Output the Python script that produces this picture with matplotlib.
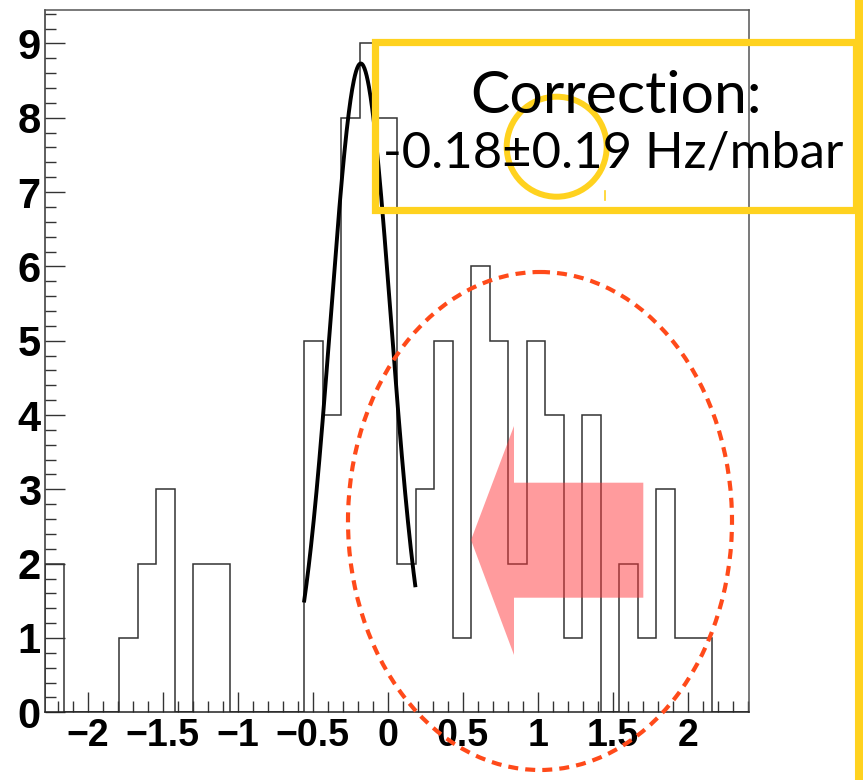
import numpy as np
import matplotlib
matplotlib.use("Agg")
from matplotlib import pyplot as plt
from matplotlib.patches import Rectangle, Circle, Ellipse, Polygon
from matplotlib.ticker import MultipleLocator

# histogram: 38 bins between x_lo and x_hi
x_lo, x_hi = -2.285, 2.408
counts = [2, 0, 0, 0, 1, 2, 3, 0, 2, 2,
          0, 0, 0, 0, 5, 4, 8, 9, 8, 2,
          3, 5, 1, 6, 5, 2, 5, 4, 1, 4,
          0, 2, 1, 3, 1, 1, 0, 0]
edges = np.linspace(x_lo, x_hi, len(counts) + 1)

# gaussian fit shown on the peak
fit_amp, fit_mean, fit_sigma = 8.73, -0.18, 0.201
fit_range = (-0.557, 0.183)

x_ticks = [-2, -1.5, -1, -0.5, 0, 0.5, 1, 1.5, 2]
x_tick_labels = ["\u22122", "\u22121.5", "\u22121", "\u22120.5", "0", "0.5", "1", "1.5", "2"]
y_ticks = list(range(10))
y_tick_labels = [str(v) for v in y_ticks]

box_text = ["Correction:", "-0.18\u00b10.19 Hz/mbar"]

W, H = 863, 780
fig = plt.figure(figsize=(W / 100, H / 100), dpi=100)
ax = fig.add_axes([45 / W, 1 - 712.3 / H, (749 - 45) / W, (712.3 - 10) / H])

ax.stairs(counts, edges, color="#333333", lw=1.1, zorder=2)

xf = np.linspace(fit_range[0], fit_range[1], 200)
yf = fit_amp * np.exp(-0.5 * ((xf - fit_mean) / fit_sigma) ** 2)
ax.plot(xf, yf, color="black", lw=2.8, zorder=3)

ax.set_xlim(x_lo, x_hi)
ax.set_ylim(0, 9.45)
ax.set_xticks(x_ticks)
ax.set_xticklabels(x_tick_labels, fontfamily="Liberation Sans",
                   fontweight="bold", fontsize=27)
ax.set_yticks(y_ticks)
ax.set_yticklabels(y_tick_labels, fontfamily="Liberation Sans",
                   fontweight="bold", fontsize=30)
ax.xaxis.set_minor_locator(MultipleLocator(0.1))
ax.yaxis.set_minor_locator(MultipleLocator(0.2))
ax.tick_params(which="both", direction="in", top=False, right=False,
               color="#333333", width=1)
ax.tick_params(which="major", length=14.5)
ax.tick_params(which="minor", length=8)
ax.tick_params(axis="x", pad=4)
ax.tick_params(axis="y", pad=3)
for s in ax.spines.values():
    s.set_color("#555555")
    s.set_linewidth(1.1)
ax.spines["left"].set_color("#333333")
ax.spines["bottom"].set_color("#222222")

# overlay in pixel coordinates for the hand-drawn annotations
ov = fig.add_axes([0, 0, 1, 1], facecolor="none")
ov.set_xlim(0, W)
ov.set_ylim(H, 0)
ov.axis("off")

yellow = "#ffd21f"
ov.add_patch(Rectangle((374.5, 41.5), 856 - 374.5, 209.5 - 41.5, fill=False,
                       ec=yellow, lw=5.2, joinstyle="miter"))
ov.plot([859, 859], [0, H], color=yellow, lw=5.8, solid_capstyle="butt")
ov.plot([605, 605], [191, 200], color=yellow, lw=1.2)
ov.text(616, 113, box_text[0], ha="center", va="baseline", fontsize=42.5,
        family="Lato", color="black")
ov.text(613, 167, box_text[1], ha="center", va="baseline", fontsize=36.5,
        family="Lato", color="black")
ov.add_patch(Circle((556.7, 146.7), 50, fill=False, ec=yellow, lw=4.3))

ov.add_patch(Ellipse((540, 521), 384, 498, fill=False, ec="#ff4a1a", lw=3,
                     linestyle=(0, (2.4, 1.7))))

arrow_pts = [(471, 540), (514, 426), (514, 482.7), (643.3, 482.7),
             (643.3, 597.7), (514, 597.7), (514, 655)]
ov.add_patch(Polygon(arrow_pts, closed=True, fc="#ff383c", ec="none", alpha=0.5))

fig.savefig("out.png", dpi=100)
